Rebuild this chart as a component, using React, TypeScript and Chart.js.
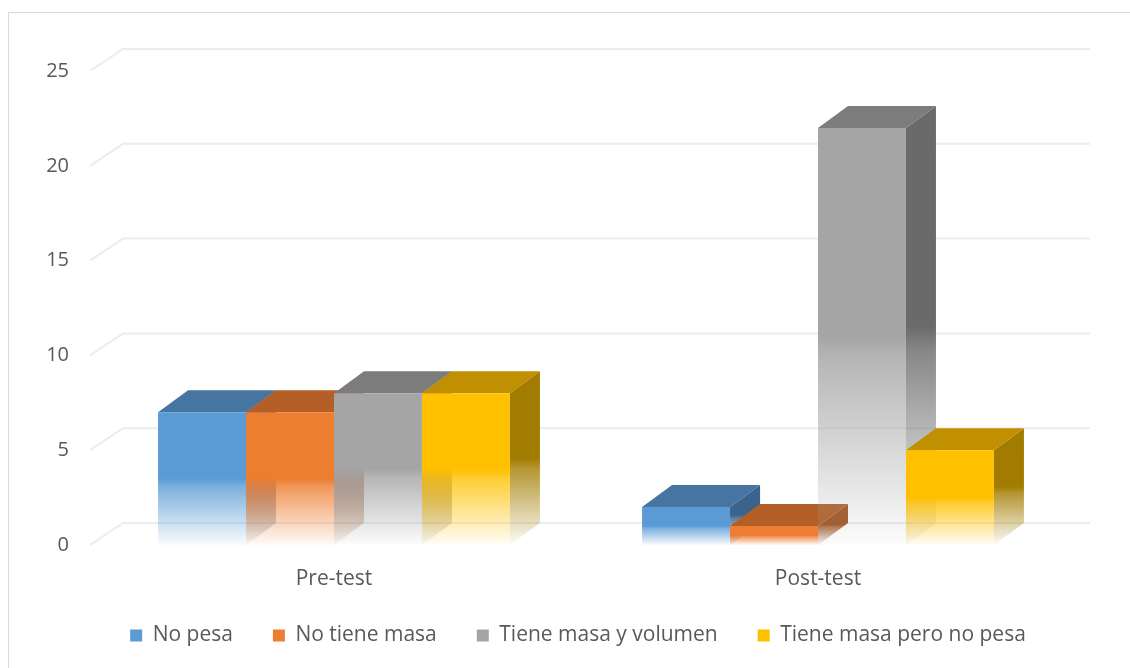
import React, { useEffect, useRef } from "react";
import { Chart, registerables } from "chart.js";

Chart.register(...registerables);

const categories = ["Pre-test", "Post-test"];
const seriesNames = ["No pesa", "No tiene masa", "Tiene masa y volumen", "Tiene masa pero no pesa"];
const noPesa = [7, 2];
const noTieneMasa = [7, 1];
const tieneMasaYVolumen = [8, 22];
const tieneMasaPeroNoPesa = [8, 5];
const yTicks = [0, 5, 10, 15, 20, 25];

const frontRGB = [[91, 155, 213], [237, 125, 49], [165, 165, 165], [255, 192, 0]];
const topRGB = [[69, 117, 160], [179, 95, 39], [124, 124, 124], [192, 144, 0]];
const sideRGB = [[58, 100, 140], [160, 84, 36], [106, 106, 106], [162, 124, 0]];

const W = 1114;
const H = 652;
const DX = 30;
const DY = -22;
const LEGEND_SHIFT = 44;
const FONT = "'Open Sans', sans-serif";
const TEXT = "#595959";

const rgba = (c: number[], a: number) => `rgba(${c[0]},${c[1]},${c[2]},${a})`;

function fadeGradient(ctx: CanvasRenderingContext2D, top: number, base: number, c: number[]) {
  const g = ctx.createLinearGradient(0, top, 0, base);
  g.addColorStop(0, rgba(c, 1));
  g.addColorStop(0.5, rgba(c, 1));
  g.addColorStop(0.56, rgba(c, 0.8));
  g.addColorStop(1, rgba(c, 0.03));
  return g;
}

const threeD = {
  id: "threeD",
  afterLayout(chart: any) {
    if (chart.legend) {
      chart.legend.left += LEGEND_SHIFT;
      chart.legend.right += LEGEND_SHIFT;
    }
  },
  beforeDatasetsDraw(chart: any) {
    const ctx: CanvasRenderingContext2D = chart.ctx;
    const ys = chart.scales.y;
    const { left, right } = chart.chartArea;
    ctx.save();
    ctx.strokeStyle = "#ececec";
    ctx.lineWidth = 2;
    for (const v of yTicks) {
      const py = ys.getPixelForValue(v);
      ctx.beginPath();
      ctx.moveTo(left - 2, py);
      ctx.lineTo(left - 2 + DX + 3, py + DY);
      ctx.lineTo(right + DX, py + DY);
      ctx.stroke();
    }
    const items: any[] = [];
    chart.data.datasets.forEach((_ds: any, di: number) => {
      const meta = chart.getDatasetMeta(di);
      meta.data.forEach((el: any) => items.push({ el, di }));
    });
    items.sort((a, b) => a.el.x - b.el.x);
    for (const { el, di } of items) {
      const { x, y, base, width } = el.getProps(["x", "y", "base", "width"], true);
      const x1 = x - width / 2;
      const x2 = x + width / 2;
      ctx.beginPath();
      ctx.moveTo(x2, y);
      ctx.lineTo(x2 + DX, y + DY);
      ctx.lineTo(x2 + DX, base + DY);
      ctx.lineTo(x2, base);
      ctx.closePath();
      ctx.fillStyle = fadeGradient(ctx, y + DY, base, sideRGB[di]);
      ctx.fill();
      ctx.beginPath();
      ctx.moveTo(x1, y);
      ctx.lineTo(x2, y);
      ctx.lineTo(x2 + DX, y + DY);
      ctx.lineTo(x1 + DX, y + DY);
      ctx.closePath();
      ctx.fillStyle = rgba(topRGB[di], 1);
      ctx.fill();
    }
    ctx.restore();
  },
};

export default function App() {
  const ref = useRef<HTMLCanvasElement>(null);
  useEffect(() => {
    const values = [noPesa, noTieneMasa, tieneMasaYVolumen, tieneMasaPeroNoPesa];
    const chart = new Chart(ref.current!, {
      type: "bar",
      data: {
        labels: categories,
        datasets: values.map((vals, di) => ({
          label: seriesNames[di],
          data: vals,
          backgroundColor: (c: any) => {
            const ch = c.chart;
            if (c.type !== "data" || !ch.chartArea) return rgba(frontRGB[di], 1);
            const ys = ch.scales.y;
            const top = ys.getPixelForValue(c.parsed.y);
            const base = ys.getPixelForValue(0);
            return fadeGradient(ch.ctx, top, base, frontRGB[di]);
          },
          borderWidth: 0,
          categoryPercentage: 0.727,
          barPercentage: 1,
        })),
      },
      options: {
        responsive: false,
        animation: false,
        layout: { padding: { top: 63, right: W - 1052, bottom: 4, left: 0 } },
        scales: {
          x: {
            grid: { display: false, drawTicks: false },
            border: { display: false },
            ticks: { color: TEXT, font: { family: FONT, size: 21 }, padding: 21 },
            afterFit: (s: any) => { s.height = 40; },
          },
          y: {
            min: 0,
            max: 25,
            grid: { display: false, drawTicks: false },
            border: { display: false },
            ticks: { stepSize: 5, color: TEXT, font: { family: FONT, size: 20 }, padding: 23 },
            afterFit: (s: any) => { s.width = 84; },
          },
        },
        plugins: {
          tooltip: { enabled: false },
          legend: {
            position: "bottom",
            labels: {
              color: TEXT,
              font: { family: FONT, size: 21 },
              boxWidth: 12,
              boxHeight: 12,
              padding: 40,
              generateLabels: (ch: any) =>
                ch.data.datasets.map((ds: any, i: number) => ({
                  text: ds.label,
                  fillStyle: rgba(frontRGB[i], 1),
                  strokeStyle: "rgba(0,0,0,0)",
                  lineWidth: 0,
                  hidden: false,
                  datasetIndex: i,
                  fontColor: TEXT,
                })),
            },
          },
        },
      },
      plugins: [threeD],
    } as any);
    return () => chart.destroy();
  }, []);
  return (
    <div style={{ position: "relative", width: W, height: H }}>
      <div
        style={{
          position: "fixed",
          left: 8,
          top: 12,
          right: 0,
          bottom: 0,
          borderTop: "1px solid #d9d9d9",
          borderLeft: "1px solid #d9d9d9",
          pointerEvents: "none",
        }}
      />
      <canvas ref={ref} width={W} height={H} style={{ display: "block", width: W, height: H }} />
    </div>
  );
}
